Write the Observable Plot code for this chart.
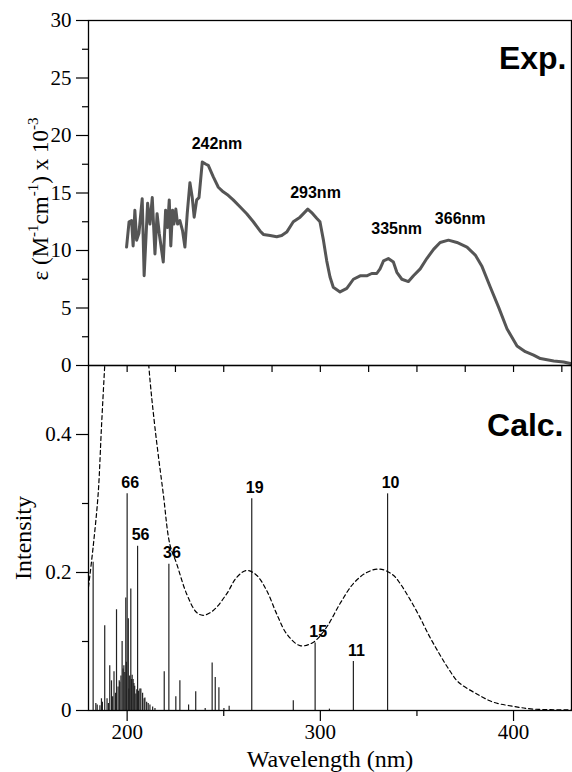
<!DOCTYPE html>
<html><head><meta charset="utf-8">
<script src="https://cdn.jsdelivr.net/npm/d3@7"></script>
<script src="https://cdn.jsdelivr.net/npm/@observablehq/plot@0.6"></script>
<style>
body{margin:0;background:#fff}
#chart{position:relative;width:572px;height:772px;background:#fff}
#chart svg{position:absolute;left:0;overflow:visible;background:transparent}
</style></head><body><div id="chart"></div>
<script>
// ---- Experimental spectrum (nm, epsilon x 10^-3) ----
const expNm = [199.7,201.0,202.3,203.1,204.0,204.9,206.1,207.8,208.8,210.6,211.8,213.0,214.4,215.5,216.6,218.7,219.9,220.9,221.8,222.6,223.5,224.2,225.2,226.1,227.3,228.7,229.9,231.1,232.5,233.7,234.7,236.0,237.2,238.9,240.8,242.0,244.6,247.2,249.7,252.3,254.9,258.4,261.9,265.3,268.8,270.5,274.0,277.4,280.0,282.6,286.0,289.5,293.5,295.5,298.1,299.8,301.6,303.3,305.0,306.7,310.2,313.7,317.1,320.6,324.0,326.6,329.2,330.9,332.7,335.2,337.8,339.6,342.2,345.6,348.2,351.7,355.1,358.6,362.0,366.3,370.7,375.9,380.2,383.7,388.0,392.2,396.6,401.8,406.1,410.4,413.9,420.8,425.9,430];
const expEps = [10.3,12.5,12.6,10.4,13.5,10.9,11.5,14.5,7.8,14.1,12.3,14.6,9.7,13.2,11.5,9.0,13.5,12.0,14.4,10.4,13.5,12.3,13.6,12.3,12.6,11.7,10.3,13.2,15.9,14.6,12.9,14.4,14.6,17.7,17.5,17.4,16.4,15.5,15.1,14.8,14.4,13.8,13.2,12.5,11.7,11.4,11.3,11.2,11.3,11.6,12.5,12.9,13.6,13.3,12.8,12.5,10.9,9.1,7.7,6.8,6.4,6.7,7.5,7.8,7.8,8.0,8.0,8.4,9.1,9.3,9.0,8.1,7.5,7.3,7.8,8.4,9.3,10.1,10.7,10.9,10.7,10.3,9.6,8.6,6.8,5.1,3.2,1.7,1.2,0.9,0.6,0.4,0.3,0.15];
const peakText = ["242nm","293nm","335nm","366nm"];
const peakLabelNm = [246.5,297.5,339.5,372.4];
const peakLabelEps = [18.8,14.6,11.4,12.3];

// ---- Calculated broadened spectrum (dashed) ----
const calcNm = [180,182.4,185,186.7,188.4,190,193,197,200,204,208,211.2,214.4,218.7,222.1,225.6,230.8,236,239.4,244.6,251.5,256.7,261.9,267,272.2,277.4,282.6,289.5,296.4,303.3,310.2,317.1,324,330.9,337.8,341.3,346,351,356,361,366,371.5,381,389.6,400,410.4,430];
const calcInt = [0.179,0.237,0.314,0.41,0.5,0.58,0.72,0.82,0.85,0.80,0.65,0.5,0.41,0.314,0.241,0.213,0.169,0.142,0.138,0.145,0.169,0.193,0.203,0.196,0.174,0.140,0.111,0.094,0.099,0.121,0.155,0.184,0.200,0.205,0.196,0.184,0.163,0.138,0.11,0.085,0.062,0.041,0.024,0.012,0.006,0.002,0.001];

// ---- Calculated transitions (sticks) ----
const stickNm = [182.4,183.8,184.5,185.9,186.7,187.2,188.4,189.6,190.3,191.0,191.9,192.5,193.2,194.0,194.5,195.3,195.9,196.2,196.8,197.4,197.9,198.3,198.8,199.3,199.6,200.0,200.6,200.9,201.3,201.9,202.2,202.6,203.1,203.5,203.9,204.5,205.0,205.4,205.9,206.6,207.1,208.0,208.8,209.2,210.1,210.9,211.8,213.2,214.4,219.2,221.6,225.2,227.3,231.8,235.5,240.4,244.0,245.6,247.5,250.1,252.8,264.5,286.0,297.3,304.7,317.1,334.8];
const stickInt = [0.215,0.010,0.008,0.007,0.017,0.012,0.123,0.017,0.010,0.065,0.043,0.020,0.056,0.025,0.146,0.034,0.043,0.041,0.050,0.100,0.060,0.065,0.055,0.163,0.070,0.314,0.133,0.031,0.050,0.176,0.045,0.051,0.045,0.039,0.035,0.024,0.030,0.238,0.028,0.031,0.031,0.025,0.017,0.018,0.012,0.010,0.008,0.005,0.003,0.056,0.212,0.020,0.043,0.008,0.027,0.003,0.069,0.048,0.033,0.003,0.006,0.307,0.014,0.098,0.002,0.071,0.314];
const stateLabel = ["66","56","36","19","15","11","10"];
const stateNm = [200.0,205.4,221.6,264.5,297.3,317.1,334.8];
const stateInt = [0.314,0.238,0.212,0.307,0.098,0.071,0.314];

// ---- Axis ticks ----
const xDomain = [180,430];
const yTopMajor = [0,5,10,15,20,25,30];
const yTopMinor = [2.5,7.5,12.5,17.5,22.5,27.5];
const xTopTicks = [200,225,250,275,300,325,350,375,400,425];
const yBotMajor = [0,0.2,0.4];
const yBotMinor = [0.1,0.3];
const xBotMajor = [200,300,400];
const xBotMinor = [250,350];

const exp = expNm.map((d,i)=>({nm:d, eps:expEps[i]}));
const peaks = peakText.map((t,i)=>({t, nm:peakLabelNm[i], eps:peakLabelEps[i]}));
const broad = calcNm.map((d,i)=>({nm:d, v:calcInt[i]}));
const sticks = stickNm.map((d,i)=>({nm:d, v:stickInt[i]}));
const states = stateLabel.map((t,i)=>({t, nm:stateNm[i], v:stateInt[i]}));

const serif = "'Liberation Serif','Times New Roman',serif";
const sans = "'Liberation Sans',Arial,Helvetica,sans-serif";
const Y_TOP_LABEL = "__YLABEL__";
const fmt = d => String(d);

const topPlot = Plot.plot({
  width: 572, height: 372, marginTop: 20, marginBottom: 7, marginLeft: 88, marginRight: 1,
  style: {fontFamily: serif, fontSize: "21px", background: "transparent", overflow: "visible", color: "#000"},
  x: {domain: xDomain, label: null},
  y: {domain: [0,30], label: null},
  marks: [
    Plot.axisY({ticks: yTopMajor, tickSize: 12, tickPadding: 5, tickFormat: fmt, label: null, fontSize: 21, strokeWidth: 1.2}),
    Plot.axisY({ticks: yTopMinor, tickSize: 6, tickFormat: () => "", label: null, strokeWidth: 1.2}),
    Plot.axisX({ticks: xTopTicks, tickSize: 7, tickFormat: () => "", label: null, strokeWidth: 1.2}),
    Plot.line(exp, {x: "nm", y: "eps", stroke: "#555", strokeWidth: 3, strokeLinejoin: "round"}),
    Plot.text(peaks, {x: "nm", y: "eps", text: "t", lineAnchor: "bottom", fontFamily: sans, fontWeight: "bold", fontSize: 16}),
    Plot.text(["Exp."], {frameAnchor: "top-right", textAnchor: "end", lineAnchor: "bottom", dx: -5, dy: 48, fontFamily: sans, fontWeight: "bold", fontSize: 32}),
    Plot.text([Y_TOP_LABEL], {frameAnchor: "left", textAnchor: "middle", rotate: -90, dx: -41, dy: 6, lineAnchor: "bottom", fontSize: 23}),
    Plot.frame({strokeWidth: 1.3})
  ]
});

const bottomPlot = Plot.plot({
  width: 572, height: 407, marginTop: 0, marginBottom: 62, marginLeft: 88, marginRight: 1,
  style: {fontFamily: serif, fontSize: "21px", background: "transparent", overflow: "visible", color: "#000"},
  x: {domain: xDomain, label: null},
  y: {domain: [0,0.5], label: null},
  marks: [
    Plot.axisY({ticks: yBotMajor, tickSize: 12, tickPadding: 5, tickFormat: fmt, label: null, fontSize: 21, strokeWidth: 1.2}),
    Plot.axisY({ticks: yBotMinor, tickSize: 6, tickFormat: () => "", label: null, strokeWidth: 1.2}),
    Plot.axisX({ticks: xBotMajor, tickSize: 11, tickPadding: 3, tickFormat: fmt, label: null, fontSize: 21, strokeWidth: 1.2}),
    Plot.axisX({ticks: xBotMinor, tickSize: 6, tickFormat: () => "", label: null, strokeWidth: 1.2}),
    Plot.ruleX(sticks, {x: "nm", y1: 0, y2: "v", stroke: "#222", strokeWidth: 1.2}),
    Plot.line(broad, {x: "nm", y: "v", stroke: "#000", strokeWidth: 1.2, strokeDasharray: "4,3", curve: "catmull-rom", clip: true}),
    Plot.text(states, {x: "nm", y: "v", text: "t", dx: 3, dy: -6, lineAnchor: "bottom", fontFamily: sans, fontWeight: "bold", fontSize: 16}),
    Plot.text(["Calc."], {frameAnchor: "top-right", textAnchor: "end", lineAnchor: "bottom", dx: -8, dy: 70, fontFamily: sans, fontWeight: "bold", fontSize: 32}),
    Plot.text(["Intensity"], {frameAnchor: "left", textAnchor: "middle", rotate: -90, dx: -58, lineAnchor: "bottom", fontSize: 24}),
    Plot.text(["Wavelength (nm)"], {frameAnchor: "bottom", textAnchor: "middle", lineAnchor: "bottom", dy: 56, fontSize: 24}),
    Plot.frame({strokeWidth: 1.3})
  ]
});

topPlot.style.top = "0px";
bottomPlot.style.top = "365px";
const chart = document.getElementById("chart");
chart.appendChild(topPlot);
chart.appendChild(bottomPlot);

// rich y-axis title with superscripts
const parts = [["ε (M",0],["-1",1],["cm",0],["-1",1],[") x 10",0],["-3",1]];
d3.select(topPlot).selectAll("text").filter(function(){return this.textContent === Y_TOP_LABEL;}).each(function(){
  const t = d3.select(this);
  t.text(null);
  let prevSup = false;
  for (const [s, sup] of parts) {
    const ts = t.append("tspan").text(s);
    if (sup) { ts.attr("dy", -10).attr("font-size", 15); prevSup = true; }
    else if (prevSup) { ts.attr("dy", 10); prevSup = false; }
  }
});
</script></body></html>
